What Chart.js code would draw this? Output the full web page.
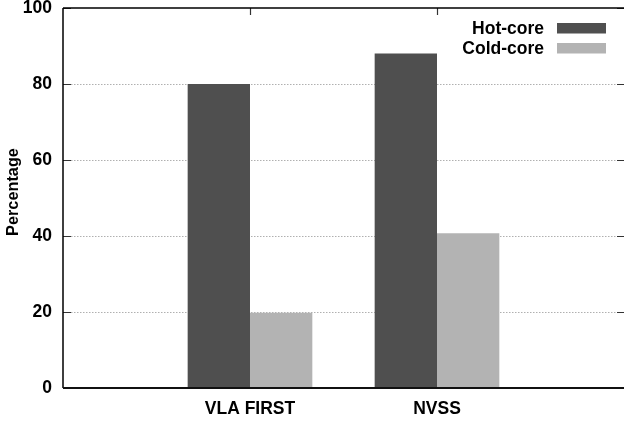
<!DOCTYPE html>
<html>
<head>
<meta charset="utf-8">
<script src="https://cdn.jsdelivr.net/npm/chart.js@4.4.1/dist/chart.umd.min.js"></script>
<style>
  html, body { margin: 0; padding: 0; background: #ffffff; }
  canvas { display: block; }
</style>
</head>
<body>
<canvas id="chart" width="624" height="423"></canvas>
<script>
// Share of hot-core and cold-core sources detected per radio survey
const categories = ['VLA FIRST', 'NVSS'];
const seriesNames = ['Hot-core', 'Cold-core'];
const hotCore = [80, 88];
const coldCore = [19.8, 40.7];
const yTicks = [0, 20, 40, 60, 80, 100];
const yTitle = 'Percentage';

const seriesColors = ['#4f4f4f', '#b3b3b3'];
const FONT = '"Liberation Sans", Arial, sans-serif';

// Gnuplot-style frame: dotted grid, inward ticks, axis title and a legend in the top-right corner
const framePlugin = {
  id: 'frame',
  beforeDatasetsDraw(chart) {
    const { ctx, chartArea: a, scales: { y } } = chart;
    ctx.save();
    ctx.strokeStyle = '#b0b0b0';
    ctx.lineWidth = 1;
    ctx.setLineDash([1.5, 1.5]);
    yTicks.slice(1, -1).forEach(v => {
      const py = Math.round(y.getPixelForValue(v)) + 0.5;
      ctx.beginPath();
      ctx.moveTo(a.left + 8, py);
      ctx.lineTo(a.right - 7, py);
      ctx.stroke();
    });
    ctx.restore();
  },
  afterDatasetsDraw(chart) {
    const { ctx, chartArea: a, scales: { x, y } } = chart;
    ctx.save();
    // inward tick marks
    ctx.strokeStyle = '#333';
    ctx.lineWidth = 1.2;
    yTicks.forEach(v => {
      const py = Math.round(y.getPixelForValue(v)) + 0.5;
      ctx.beginPath();
      ctx.moveTo(a.left, py); ctx.lineTo(a.left + 8, py);
      ctx.moveTo(a.right, py); ctx.lineTo(a.right - 7, py);
      ctx.stroke();
    });
    categories.forEach((_, i) => {
      const px = Math.round(x.getPixelForValue(i)) + 0.5;
      ctx.beginPath();
      ctx.moveTo(px, a.top); ctx.lineTo(px, a.top + 7);
      ctx.stroke();
    });
    // frame lines
    ctx.strokeStyle = '#000';
    ctx.lineWidth = 1.5;
    ctx.beginPath();
    ctx.moveTo(a.left, a.top); ctx.lineTo(a.right, a.top);
    ctx.moveTo(a.left, a.top); ctx.lineTo(a.left, a.bottom);
    ctx.stroke();
    ctx.lineWidth = 2;
    ctx.strokeStyle = '#111';
    ctx.beginPath();
    ctx.moveTo(a.left, a.bottom); ctx.lineTo(a.right, a.bottom);
    ctx.stroke();

    // y-axis title, rotated
    ctx.save();
    ctx.translate(13.5, (a.top + a.bottom) / 2 - 6);
    ctx.rotate(-Math.PI / 2);
    ctx.font = 'bold 16.3px ' + FONT;
    ctx.textAlign = 'center';
    ctx.textBaseline = 'middle';
    ctx.fillStyle = '#000';
    ctx.fillText(yTitle, 0, 0);
    ctx.restore();

    // legend
    ctx.font = 'bold 17.5px ' + FONT;
    ctx.textAlign = 'right';
    ctx.textBaseline = 'middle';
    chart.data.datasets.forEach((ds, i) => {
      const cy = 28 + i * 20;
      ctx.fillStyle = '#000';
      ctx.fillText(ds.label, 544, cy + 1);
      ctx.fillStyle = ds.backgroundColor;
      ctx.fillRect(557, cy - 5, 49, 10.5);
    });
    ctx.restore();
  }
};

new Chart(document.getElementById('chart'), {
  type: 'bar',
  data: {
    datasets: [
      {
        label: seriesNames[0],
        data: hotCore.map((v, i) => ({ x: i, y: v })),
        backgroundColor: seriesColors[0],
        borderWidth: 0,
        categoryPercentage: 2 / 3,
        barPercentage: 1
      },
      {
        label: seriesNames[1],
        data: coldCore.map((v, i) => ({ x: i, y: v })),
        backgroundColor: seriesColors[1],
        borderWidth: 0,
        categoryPercentage: 2 / 3,
        barPercentage: 1
      }
    ]
  },
  options: {
    responsive: false,
    devicePixelRatio: 1,
    animation: false,
    layout: { autoPadding: false, padding: { top: 8, right: 0, bottom: 0, left: 0 } },
    plugins: { legend: { display: false }, tooltip: { enabled: false } },
    scales: {
      x: {
        type: 'linear',
        position: 'bottom',
        offset: false,
        min: -1,
        max: 2,
        grid: { display: false, drawTicks: false, offset: false },
        border: { display: false },
        afterBuildTicks: s => { s.ticks = categories.map((_, i) => ({ value: i })); },
        afterFit: s => { s.height = 35; s.paddingLeft = 0; s.paddingRight = 0; },
        ticks: {
          autoSkip: false,
          maxRotation: 0,
          padding: 11,
          color: '#000',
          font: { family: FONT, size: 17.5, weight: 'bold' },
          callback: v => categories[v] ?? ''
        }
      },
      y: {
        min: 0,
        max: 100,
        grid: { display: false, drawTicks: false },
        border: { display: false },
        afterBuildTicks: s => { s.ticks = yTicks.map(v => ({ value: v })); },
        afterFit: s => { s.width = 63; s.paddingTop = 0; s.paddingBottom = 0; },
        ticks: {
          padding: 11,
          color: '#000',
          font: { family: FONT, size: 17.5, weight: 'bold' }
        }
      }
    }
  },
  plugins: [framePlugin]
});
</script>
</body>
</html>
